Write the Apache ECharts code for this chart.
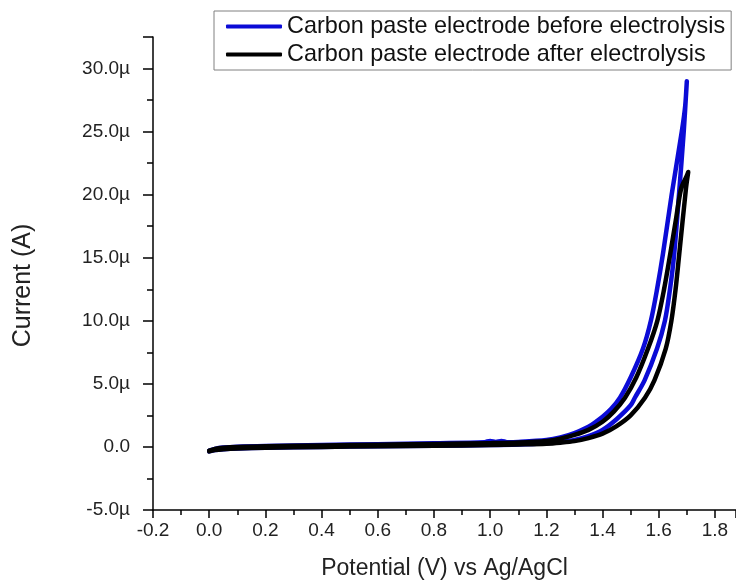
<!DOCTYPE html>
<html>
<head>
<meta charset="utf-8">
<script src="https://cdn.jsdelivr.net/npm/echarts@6/dist/echarts.min.js"></script>
<style>
  html, body { margin: 0; padding: 0; background: #fff; }
  #chart { width: 736px; height: 585px; }
</style>
</head>
<body>
<div id="chart"></div>
<script>
// potential (V) and current (µA), loop: forward then return
const blueV = [0.00, 0.02, 0.05, 0.10, 0.20, 0.40, 0.60, 0.80, 1.00, 1.10, 1.20, 1.25, 1.30, 1.35, 1.40, 1.45, 1.50, 1.515, 1.55, 1.594, 1.622, 1.640, 1.655, 1.672, 1.689, 1.700,
  1.694, 1.682, 1.646, 1.615, 1.594, 1.572, 1.544, 1.50, 1.462, 1.43, 1.40, 1.35, 1.30, 1.25, 1.20, 1.10, 1.06, 1.04, 1.02, 1.00, 0.98, 0.80, 0.60, 0.40, 0.20, 0.10, 0.05, 0.02, 0.00]
const blueI = [-0.35, -0.25, -0.18, -0.12, -0.06, 0.00, 0.05, 0.10, 0.15, 0.20, 0.30, 0.40, 0.55, 0.85, 1.35, 2.20, 3.30, 3.90, 5.30, 7.80, 10.0, 12.5, 15.3, 20.0, 25.0, 29.0,
  27.0, 25.0, 20.0, 15.3, 12.5, 10.0, 7.80, 5.50, 3.90, 3.00, 2.40, 1.60, 1.10, 0.75, 0.55, 0.40, 0.38, 0.48, 0.40, 0.48, 0.38, 0.30, 0.22, 0.15, 0.08, 0.02, -0.05, -0.15, -0.30]

const blackV = [0.00, 0.02, 0.05, 0.10, 0.20, 0.40, 0.60, 0.80, 1.00, 1.10, 1.20, 1.25, 1.30, 1.35, 1.40, 1.45, 1.50, 1.551, 1.585, 1.625, 1.645, 1.660, 1.673, 1.697, 1.705,
  1.700, 1.680, 1.661, 1.641, 1.619, 1.595, 1.562, 1.52, 1.480, 1.44, 1.40, 1.35, 1.30, 1.25, 1.20, 1.10, 1.00, 0.80, 0.60, 0.40, 0.20, 0.10, 0.05, 0.02, 0.00]
const blackI = [-0.35, -0.25, -0.18, -0.12, -0.06, 0.00, 0.05, 0.10, 0.15, 0.20, 0.26, 0.34, 0.46, 0.70, 1.05, 1.65, 2.50, 3.90, 5.30, 7.80, 10.0, 12.5, 15.3, 20.5, 21.8,
  21.5, 20.5, 18.0, 15.3, 12.5, 10.0, 7.80, 5.50, 3.90, 2.80, 2.00, 1.35, 0.95, 0.66, 0.48, 0.35, 0.30, 0.24, 0.18, 0.12, 0.06, 0.00, -0.07, -0.16, -0.30]

const seriesNames = ['Carbon paste electrode before electrolysis', 'Carbon paste electrode after electrolysis']
const seriesColors = ['#0b0bd6', '#000000']

const pairs = (xs, ys) => xs.map((x, i) => [x, ys[i]])

const chart = echarts.init(document.getElementById('chart'), null, { renderer: 'canvas' })

const FONT = 'Liberation Sans, Arial, sans-serif'

const lineSeries = (name, color, data) => ({
  name: name,
  type: 'line',
  data: data,
  symbol: 'none',
  smooth: 0.3,
  lineStyle: { color: color, width: 4.5, cap: 'round', join: 'round' },
  itemStyle: { color: color }
})

chart.setOption({
  animation: false,
  backgroundColor: '#fff',
  textStyle: { fontFamily: FONT },
  grid: { left: 153, right: 0, top: 37, bottom: 72 },
  legend: {
    orient: 'vertical',
    left: 214,
    top: 11,
    padding: [4, 6, 4, 12],
    itemGap: 5,
    itemWidth: 56,
    itemHeight: 4,
    icon: 'roundRect',
    borderColor: '#808080',
    borderWidth: 1,
    textStyle: { fontFamily: FONT, fontSize: 23.4, color: '#111' },
    data: seriesNames
  },
  xAxis: {
    type: 'value',
    min: -0.2,
    max: 1.875,
    interval: 0.2,
    name: 'Potential (V) vs Ag/AgCl',
    nameLocation: 'middle',
    nameGap: 47,
    nameTextStyle: { fontFamily: FONT, fontSize: 23, color: '#222' },
    axisLine: { show: true, onZero: false, lineStyle: { color: '#000', width: 1.5 } },
    axisTick: { show: true, length: 8, lineStyle: { color: '#000', width: 1.5 } },
    minorTick: { show: true, splitNumber: 2, length: 5, lineStyle: { color: '#000', width: 1.5 } },
    splitLine: { show: false },
    axisLabel: {
      fontFamily: FONT, fontSize: 19, color: '#222', margin: 11,
      showMaxLabel: false,
      formatter: v => v.toFixed(1)
    }
  },
  yAxis: {
    type: 'value',
    min: -5,
    max: 32.5,
    interval: 5,
    name: 'Current (A)',
    nameLocation: 'middle',
    nameGap: 117,
    nameTextStyle: { fontFamily: FONT, fontSize: 25, color: '#222', padding: [0, 24, 0, 0] },
    axisLine: { show: true, onZero: false, lineStyle: { color: '#000', width: 1.5 } },
    axisTick: { show: true, length: 10, lineStyle: { color: '#000', width: 1.5 } },
    minorTick: { show: true, splitNumber: 2, length: 6, lineStyle: { color: '#000', width: 1.5 } },
    splitLine: { show: false },
    axisLabel: {
      fontFamily: FONT, fontSize: 19, color: '#222', margin: 23,
      showMaxLabel: false,
      formatter: v => (v === 0 ? '0.0' : v.toFixed(1) + 'µ')
    }
  },
  series: [
    lineSeries(seriesNames[0], seriesColors[0], pairs(blueV, blueI)),
    lineSeries(seriesNames[1], seriesColors[1], pairs(blackV, blackI))
  ]
})
</script>
</body>
</html>
